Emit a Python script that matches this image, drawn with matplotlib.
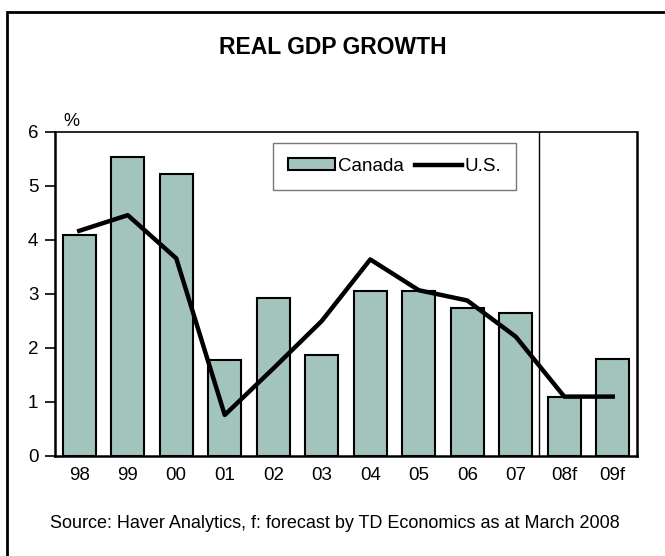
import matplotlib
matplotlib.use("Agg")
import matplotlib.pyplot as plt
from matplotlib.patches import Rectangle
import numpy as np

plt.rcParams.update({
    "font.family": ["Liberation Sans", "DejaVu Sans"],
    "font.size": 13.5,
})

years = ["98", "99", "00", "01", "02", "03", "04", "05", "06", "07", "08f", "09f"]
canada = [4.1, 5.53, 5.23, 1.78, 2.92, 1.87, 3.06, 3.06, 2.75, 2.64, 1.1, 1.79]
us = [4.17, 4.46, 3.66, 0.76, 1.62, 2.5, 3.64, 3.07, 2.88, 2.21, 1.1, 1.1]
forecast_split = 9.47

bar_colour = "#A3C4BD"

fig = plt.figure(figsize=(6.65, 5.56), dpi=100)
W, H = 665, 556
ax = fig.add_axes([55 / W, 1 - 456 / H, (637 - 55) / W, (456 - 132) / H])

x = np.arange(len(years))
bars = ax.bar(x, canada, width=0.68, color=bar_colour, edgecolor="black",
              linewidth=1.5, label="Canada", zorder=2)
line, = ax.plot(x, us, color="black", linewidth=3.2, label="U.S.", zorder=3)
ax.axvline(forecast_split, color="black", linewidth=1.0, zorder=1)

ax.set_xlim(-0.5, len(years) - 0.5)
ax.set_ylim(0, 6)
ax.set_yticks(range(7))
ax.set_xticks(x)
ax.set_xticklabels(years)
ax.tick_params(axis="x", length=0, pad=8, labelsize=13.5)
ax.tick_params(axis="y", length=7, width=1.2, direction="out", labelsize=13.5, pad=5)
for side in ["left", "bottom", "right"]:
    ax.spines[side].set_linewidth(1.8)
ax.spines["top"].set_linewidth(1.2)

ax.text(-0.33, 6.03, "%", fontsize=13, ha="left", va="bottom")

leg = ax.legend([bars, line], ["Canada", "U.S."], ncol=2, loc="upper left",
                bbox_to_anchor=((273 - 55) / (637 - 55), 1 - (143 - 132) / 324),
                frameon=True, fancybox=False, fontsize=13.5,
                handlelength=2.5, handleheight=0.6, columnspacing=0.6,
                handletextpad=0.15, borderpad=0.8, borderaxespad=0)
leg.get_frame().set_edgecolor("#555555")
leg.get_frame().set_linewidth(1.0)

fig.text(333 / W, 1 - 47 / H, "REAL GDP GROWTH", ha="center", va="center",
         fontsize=16.5, fontweight="bold")
fig.text(335 / W, 1 - 524 / H,
         "Source: Haver Analytics, f: forecast by TD Economics as at March 2008",
         ha="center", va="center", fontsize=13)

# outer frame, runs off the right and bottom edges
fig.patches.append(Rectangle((7 / W, -0.1), 1.2, 1 - 12 / H + 0.1,
                             transform=fig.transFigure, fill=False,
                             edgecolor="black", linewidth=2.0))

fig.savefig("out.png", dpi=100)
